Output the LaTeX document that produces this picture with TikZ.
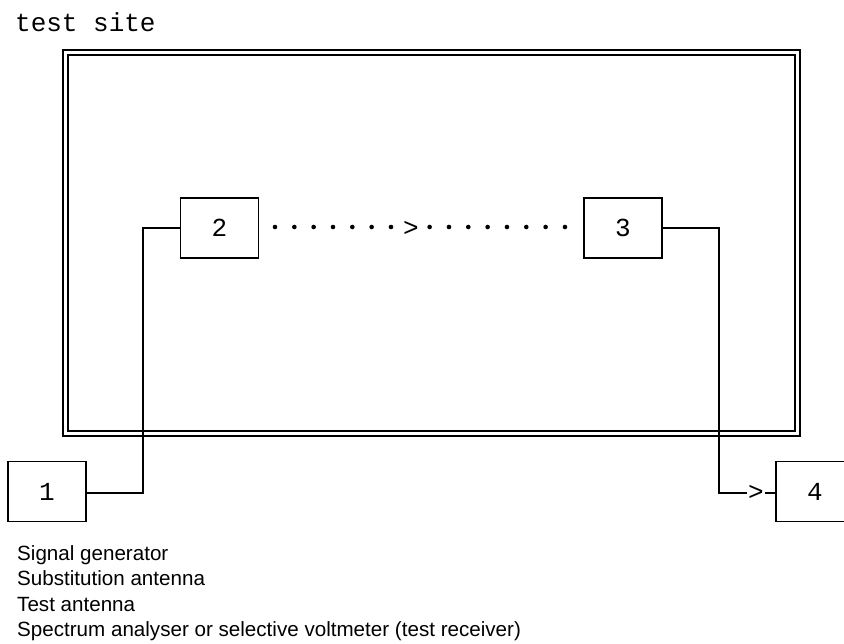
\documentclass[tikz,border=0pt]{standalone}
\usepackage{fontspec}
\setmainfont{Liberation Sans}
\newfontfamily\monofont{Liberation Mono}
\begin{document}
\begin{tikzpicture}[x=1pt,y=-1pt,
  unitbox/.style={draw,line width=1.6pt,minimum width=78pt,minimum height=60pt,inner sep=0pt,font=\monofont\fontsize{26}{26}\selectfont},
  wire/.style={line width=1.6pt},
  frame/.style={line width=1.8pt},
  dotline/.style={line width=4.6pt,line cap=round,dash pattern=on 0pt off 19.33pt},
  tip/.style={fill=white,inner sep=1pt,font=\monofont\fontsize{26}{26}\selectfont},
  legend/.style={anchor=base west,inner sep=0pt,font=\fontsize{20.6}{20.6}\selectfont}]
\useasboundingbox (0,0) rectangle (844,644);
\clip (0,0) rectangle (844,644);
% test site frame
\node[anchor=base west,inner sep=0pt,font=\monofont\fontsize{26}{26}\selectfont] (title) at (15,32) {test site};
\draw[frame] (63,50) rectangle (800,436);
\draw[frame] (68,55) rectangle (795,431);
% units
\node[unitbox] (b1) at (47,491.5) {1};
\node[unitbox] (b2) at (219.5,228) {2};
\node[unitbox] (b3) at (623,228) {3};
\node[unitbox] (b4) at (815,491.5) {4};
% connectors
\coordinate (c1) at (143,228);
\coordinate (c2) at (143,493);
\coordinate (c3) at (719,228);
\coordinate (c4) at (719,493);
\draw[wire] (b2.west) -- (c1) -- (c2) -- (b1.east |- c2);
\draw[wire] (b3.east) -- (c3) -- (c4) -- (b4.west |- c4);
\node[tip] (t4) at (756,493) {>};
\coordinate (d1) at (275,227);
\coordinate (d2) at (566,227);
\draw[dotline] (d1) -- (d2);
\node[tip] (t2) at (411,229) {>};
% legend
\node[legend] (l1) at (17,560) {Signal generator};
\node[legend] (l2) at (17,585.5) {Substitution antenna};
\node[legend] (l3) at (17,611) {Test antenna};
\node[legend] (l4) at (17,636.5) {Spectrum analyser or selective voltmeter (test receiver)};
\end{tikzpicture}
\end{document}
